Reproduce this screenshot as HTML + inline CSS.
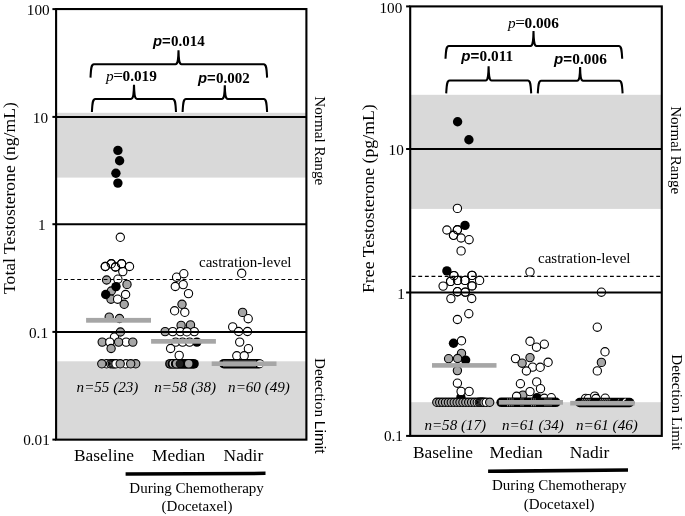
<!DOCTYPE html>
<html lang="en">
<head>
<meta charset="utf-8">
<title>Testosterone levels during docetaxel chemotherapy</title>
<style>
html,body{margin:0;padding:0;background:#fff;}
body{width:685px;height:516px;overflow:hidden;}
svg{display:block;}
text{fill:#000;}
</style>
</head>
<body>
<svg width="685" height="516" viewBox="0 0 685 516">
<rect x="0" y="0" width="685" height="516" fill="#fff"/>
<rect x="56.1" y="112.8" width="250.3" height="64.8" fill="#d9d9d9"/>
<rect x="56.1" y="361.3" width="250.3" height="78.3" fill="#d9d9d9"/>
<circle cx="117.9" cy="150.4" r="4.70" fill="#000"/>
<circle cx="119.6" cy="160.7" r="4.70" fill="#000"/>
<circle cx="115.9" cy="173.3" r="4.70" fill="#000"/>
<circle cx="117.9" cy="183.1" r="4.70" fill="#000"/>
<circle cx="120.3" cy="237.3" r="4.15" fill="#fff" stroke="#000" stroke-width="1.1"/>
<circle cx="111.3" cy="263.8" r="4.15" fill="#fff" stroke="#000" stroke-width="1.1"/>
<circle cx="105.3" cy="266.5" r="4.15" fill="#fff" stroke="#000" stroke-width="1.1"/>
<circle cx="115.5" cy="267.0" r="4.15" fill="#fff" stroke="#000" stroke-width="1.1"/>
<circle cx="121.6" cy="263.8" r="4.15" fill="#fff" stroke="#000" stroke-width="1.1"/>
<circle cx="129.5" cy="266.5" r="4.15" fill="#fff" stroke="#000" stroke-width="1.1"/>
<circle cx="122.8" cy="271.6" r="4.15" fill="#fff" stroke="#000" stroke-width="1.1"/>
<circle cx="106.6" cy="280.0" r="4.15" fill="#a6a6a6" stroke="#000" stroke-width="1.1"/>
<circle cx="117.9" cy="279.2" r="4.15" fill="#fff" stroke="#000" stroke-width="1.1"/>
<circle cx="127.0" cy="284.4" r="4.15" fill="#a6a6a6" stroke="#000" stroke-width="1.1"/>
<circle cx="111.3" cy="291.0" r="4.15" fill="#a6a6a6" stroke="#000" stroke-width="1.1"/>
<circle cx="116.0" cy="286.6" r="4.70" fill="#000"/>
<circle cx="111.0" cy="299.2" r="4.15" fill="#a6a6a6" stroke="#000" stroke-width="1.1"/>
<circle cx="105.7" cy="294.5" r="4.70" fill="#000"/>
<circle cx="125.6" cy="294.5" r="4.15" fill="#fff" stroke="#000" stroke-width="1.1"/>
<circle cx="117.6" cy="299.2" r="4.15" fill="#fff" stroke="#000" stroke-width="1.1"/>
<circle cx="124.2" cy="304.3" r="4.15" fill="#a6a6a6" stroke="#000" stroke-width="1.1"/>
<circle cx="109.2" cy="317.1" r="4.15" fill="#a6a6a6" stroke="#000" stroke-width="1.1"/>
<circle cx="119.5" cy="318.5" r="4.15" fill="#a6a6a6" stroke="#000" stroke-width="1.1"/>
<circle cx="114.5" cy="337.0" r="4.15" fill="#fff" stroke="#000" stroke-width="1.1"/>
<circle cx="120.4" cy="332.0" r="4.15" fill="#a6a6a6" stroke="#000" stroke-width="1.1"/>
<circle cx="102.2" cy="342.1" r="4.15" fill="#a6a6a6" stroke="#000" stroke-width="1.1"/>
<circle cx="109.8" cy="342.1" r="4.15" fill="#fff" stroke="#000" stroke-width="1.1"/>
<circle cx="126.1" cy="342.1" r="4.15" fill="#fff" stroke="#000" stroke-width="1.1"/>
<circle cx="118.6" cy="342.1" r="4.15" fill="#a6a6a6" stroke="#000" stroke-width="1.1"/>
<circle cx="132.8" cy="342.1" r="4.15" fill="#a6a6a6" stroke="#000" stroke-width="1.1"/>
<circle cx="111.1" cy="348.5" r="4.15" fill="#a6a6a6" stroke="#000" stroke-width="1.1"/>
<circle cx="135.7" cy="363.8" r="4.15" fill="#a6a6a6" stroke="#000" stroke-width="1.1"/>
<circle cx="126.0" cy="363.8" r="4.15" fill="#fff" stroke="#000" stroke-width="1.1"/>
<circle cx="130.7" cy="363.8" r="4.15" fill="#a6a6a6" stroke="#000" stroke-width="1.1"/>
<circle cx="106.6" cy="363.8" r="4.15" fill="#fff" stroke="#000" stroke-width="1.1"/>
<circle cx="101.8" cy="363.8" r="4.15" fill="#a6a6a6" stroke="#000" stroke-width="1.1"/>
<circle cx="110.6" cy="363.8" r="4.15" fill="#a6a6a6" stroke="#000" stroke-width="1.1"/>
<circle cx="112.4" cy="363.8" r="4.15" fill="#a6a6a6" stroke="#000" stroke-width="1.1"/>
<circle cx="113.6" cy="363.8" r="4.15" fill="#fff" stroke="#000" stroke-width="1.1"/>
<circle cx="114.8" cy="363.8" r="4.15" fill="#a6a6a6" stroke="#000" stroke-width="1.1"/>
<circle cx="116.0" cy="363.8" r="4.15" fill="#fff" stroke="#000" stroke-width="1.1"/>
<circle cx="120.2" cy="363.8" r="4.15" fill="#a6a6a6" stroke="#000" stroke-width="1.1"/>
<circle cx="176.6" cy="277.2" r="4.15" fill="#fff" stroke="#000" stroke-width="1.1"/>
<circle cx="183.8" cy="273.7" r="4.15" fill="#fff" stroke="#000" stroke-width="1.1"/>
<circle cx="175.3" cy="286.5" r="4.15" fill="#fff" stroke="#000" stroke-width="1.1"/>
<circle cx="183.2" cy="284.6" r="4.15" fill="#fff" stroke="#000" stroke-width="1.1"/>
<circle cx="188.5" cy="293.6" r="4.15" fill="#fff" stroke="#000" stroke-width="1.1"/>
<circle cx="174.6" cy="310.8" r="4.15" fill="#fff" stroke="#000" stroke-width="1.1"/>
<circle cx="184.8" cy="312.3" r="4.15" fill="#fff" stroke="#000" stroke-width="1.1"/>
<circle cx="182.0" cy="304.3" r="4.15" fill="#a6a6a6" stroke="#000" stroke-width="1.1"/>
<circle cx="181.1" cy="325.4" r="4.15" fill="#a6a6a6" stroke="#000" stroke-width="1.1"/>
<circle cx="190.5" cy="324.9" r="4.15" fill="#a6a6a6" stroke="#000" stroke-width="1.1"/>
<circle cx="165.1" cy="331.6" r="4.15" fill="#a6a6a6" stroke="#000" stroke-width="1.1"/>
<circle cx="172.7" cy="331.6" r="4.15" fill="#fff" stroke="#000" stroke-width="1.1"/>
<circle cx="180.3" cy="331.6" r="4.15" fill="#fff" stroke="#000" stroke-width="1.1"/>
<circle cx="194.3" cy="331.6" r="4.15" fill="#fff" stroke="#000" stroke-width="1.1"/>
<circle cx="186.9" cy="331.8" r="4.15" fill="#fff" stroke="#000" stroke-width="1.1"/>
<circle cx="175.6" cy="342.1" r="4.15" fill="#fff" stroke="#000" stroke-width="1.1"/>
<circle cx="182.6" cy="342.1" r="4.15" fill="#fff" stroke="#000" stroke-width="1.1"/>
<circle cx="189.6" cy="342.1" r="4.15" fill="#fff" stroke="#000" stroke-width="1.1"/>
<circle cx="196.9" cy="342.1" r="4.70" fill="#000"/>
<circle cx="170.6" cy="348.5" r="4.15" fill="#fff" stroke="#000" stroke-width="1.1"/>
<circle cx="179.2" cy="355.4" r="4.15" fill="#fff" stroke="#000" stroke-width="1.1"/>
<circle cx="241.7" cy="273.3" r="4.15" fill="#fff" stroke="#000" stroke-width="1.1"/>
<circle cx="242.6" cy="312.4" r="4.15" fill="#a6a6a6" stroke="#000" stroke-width="1.1"/>
<circle cx="248.2" cy="318.7" r="4.15" fill="#fff" stroke="#000" stroke-width="1.1"/>
<circle cx="232.7" cy="326.9" r="4.15" fill="#fff" stroke="#000" stroke-width="1.1"/>
<circle cx="238.6" cy="331.5" r="4.15" fill="#fff" stroke="#000" stroke-width="1.1"/>
<circle cx="247.5" cy="331.5" r="4.15" fill="#fff" stroke="#000" stroke-width="1.1"/>
<circle cx="239.7" cy="342.1" r="4.15" fill="#fff" stroke="#000" stroke-width="1.1"/>
<circle cx="248.4" cy="348.7" r="4.15" fill="#fff" stroke="#000" stroke-width="1.1"/>
<circle cx="236.8" cy="355.8" r="4.15" fill="#fff" stroke="#000" stroke-width="1.1"/>
<circle cx="244.2" cy="355.8" r="4.15" fill="#fff" stroke="#000" stroke-width="1.1"/>
<circle cx="111.3" cy="263.8" r="4.15" fill="none" stroke="#000" stroke-width="1.1"/>
<circle cx="105.3" cy="266.5" r="4.15" fill="none" stroke="#000" stroke-width="1.1"/>
<circle cx="115.5" cy="267.0" r="4.15" fill="none" stroke="#000" stroke-width="1.1"/>
<circle cx="121.6" cy="263.8" r="4.15" fill="none" stroke="#000" stroke-width="1.1"/>
<rect x="165.1" y="358.9" width="33.7" height="9.8" rx="4.9" ry="4.9" fill="#000"/>
<circle cx="170.2" cy="363.75" r="3.7" fill="#666"/>
<circle cx="171.6" cy="363.75" r="3.9" fill="#000"/>
<circle cx="173.2" cy="363.75" r="3.7" fill="#ccc"/>
<circle cx="174.8" cy="363.75" r="3.9" fill="#000"/>
<circle cx="176.6" cy="363.75" r="3.7" fill="#a6a6a6"/>
<circle cx="179.9" cy="363.75" r="4.3" fill="#000"/>
<circle cx="179.7" cy="363.75" r="3.5" fill="#1c1c1c"/>
<circle cx="188.7" cy="363.75" r="3.7" fill="#a6a6a6"/>
<rect x="219.0" y="358.9" width="45.0" height="9.6" rx="4.8" ry="4.8" fill="#000"/>
<circle cx="260.0" cy="363.75" r="3.6" fill="#fff"/>
<rect x="223" y="360.45" width="33" height="6.6" fill="#555"/>
<rect x="86.1" y="317.9" width="64.9" height="4.8" fill="#a6a6a6"/>
<rect x="151.1" y="339.0" width="64.8" height="4.7" fill="#a6a6a6"/>
<rect x="211.7" y="361.5" width="64.8" height="4.5" fill="#a6a6a6"/>
<line x1="56.1" y1="116.9" x2="306.4" y2="116.9" stroke="#000" stroke-width="2.0" stroke-linecap="butt"/>
<line x1="56.1" y1="224.2" x2="306.4" y2="224.2" stroke="#000" stroke-width="2.0" stroke-linecap="butt"/>
<line x1="56.1" y1="331.9" x2="306.4" y2="331.9" stroke="#000" stroke-width="2.0" stroke-linecap="butt"/>
<line x1="56.1" y1="279.5" x2="306.4" y2="279.5" stroke="#000" stroke-width="1.15" stroke-dasharray="3.85 2.735" stroke-dashoffset="-1.4" stroke-linecap="butt"/>
<rect x="56.1" y="9.05" width="250.3" height="430.6" fill="none" stroke="#000" stroke-width="2.1"/>
<line x1="52.4" y1="9.1" x2="56.1" y2="9.1" stroke="#000" stroke-width="2.0" stroke-linecap="butt"/>
<line x1="52.4" y1="116.9" x2="56.1" y2="116.9" stroke="#000" stroke-width="2.0" stroke-linecap="butt"/>
<line x1="52.4" y1="224.2" x2="56.1" y2="224.2" stroke="#000" stroke-width="2.0" stroke-linecap="butt"/>
<line x1="52.4" y1="331.9" x2="56.1" y2="331.9" stroke="#000" stroke-width="2.0" stroke-linecap="butt"/>
<line x1="52.4" y1="439.6" x2="56.1" y2="439.6" stroke="#000" stroke-width="2.0" stroke-linecap="butt"/>
<text x="49.6" y="15.1" font-family='"Liberation Serif", serif' font-size="15.2" text-anchor="end">100</text>
<text x="48.0" y="122.8" font-family='"Liberation Serif", serif' font-size="15.2" text-anchor="end">10</text>
<text x="45.6" y="230.1" font-family='"Liberation Serif", serif' font-size="15.2" text-anchor="end">1</text>
<text x="48.0" y="337.8" font-family='"Liberation Serif", serif' font-size="15.2" text-anchor="end">0.1</text>
<text x="49.8" y="444.9" font-family='"Liberation Serif", serif' font-size="15.2" text-anchor="end">0.01</text>
<text x="14.9" y="293.9" font-family='"Liberation Serif", serif' font-size="17.6" text-anchor="start" transform="rotate(-90 14.9 293.9)">Total Testosterone (ng/mL)</text>
<text x="315.2" y="96.3" font-family='"Liberation Serif", serif' font-size="15.2" text-anchor="start" transform="rotate(90 315.2 96.3)">Normal Range</text>
<text x="315.2" y="358.0" font-family='"Liberation Serif", serif' font-size="15.2" transform="rotate(90 315.2 358.0)">Detection <tspan font-family='"Liberation Sans", sans-serif' font-size="15.5">Limit</tspan></text>
<text x="199.0" y="267.3" font-family='"Liberation Serif", serif' font-size="15.0" text-anchor="start">castration-level</text>
<text x="76.6" y="392.0" font-family='"Liberation Serif", serif' font-size="15.1" font-style="italic" text-anchor="start">n=55 (23)</text>
<text x="154.3" y="392.0" font-family='"Liberation Serif", serif' font-size="15.1" font-style="italic" text-anchor="start">n=58 (38)</text>
<text x="228.1" y="392.0" font-family='"Liberation Serif", serif' font-size="15.1" font-style="italic" text-anchor="start">n=60 (49)</text>
<path d="M90.5 77.6 C91.0 69.2 91.0 64.2 93.9 64.2 L175.5 64.2 C177.8 64.2 178.3 60.2 178.5 50.3 C178.7 60.2 179.2 64.2 181.5 64.2 L263.7 64.2 C266.6 64.2 266.6 69.2 267.1 77.6" fill="none" stroke="#000" stroke-width="2.05" stroke-linejoin="miter" stroke-miterlimit="10"/>
<path d="M91.9 112.0 C92.4 103.9 92.4 98.9 95.3 98.9 L131.0 98.9 C133.3 98.9 133.8 94.9 134.0 84.8 C134.2 94.9 134.7 98.9 137.0 98.9 L172.6 98.9 C175.5 98.9 175.5 103.9 176.0 112.0" fill="none" stroke="#000" stroke-width="2.05" stroke-linejoin="miter" stroke-miterlimit="10"/>
<path d="M182.6 112.0 C183.1 104.0 183.1 99.0 186.0 99.0 L221.8 99.0 C224.1 99.0 224.6 95.0 224.8 85.3 C225.0 95.0 225.5 99.0 227.8 99.0 L263.7 99.0 C266.6 99.0 266.6 104.0 267.1 112.0" fill="none" stroke="#000" stroke-width="2.05" stroke-linejoin="miter" stroke-miterlimit="10"/>
<text x="153.0" y="45.8" font-family='"Liberation Serif", serif' font-size="15.0"><tspan font-family='"Liberation Sans", sans-serif' font-style="italic" font-weight="bold" font-size="14.8">p</tspan><tspan font-family='"Liberation Sans", sans-serif' font-weight="bold" font-size="14.8">=</tspan><tspan font-weight="bold" dx="0.3">0.014</tspan></text>
<text x="106.0" y="81.1" font-family='"Liberation Serif", serif' font-size="15.3"><tspan font-style="italic">p</tspan><tspan font-size="17.3" dx="-0.4">=</tspan><tspan font-weight="bold" dx="-0.5">0.019</tspan></text>
<text x="198.0" y="82.8" font-family='"Liberation Serif", serif' font-size="15.0"><tspan font-family='"Liberation Sans", sans-serif' font-style="italic" font-weight="bold" font-size="14.8">p</tspan><tspan font-family='"Liberation Sans", sans-serif' font-weight="bold" font-size="14.8">=</tspan><tspan font-weight="bold" dx="0.3">0.002</tspan></text>
<text x="74.0" y="461.2" font-family='"Liberation Serif", serif' font-size="17.4" text-anchor="start">Baseline</text>
<text x="152.0" y="461.2" font-family='"Liberation Serif", serif' font-size="17.4" text-anchor="start">Median</text>
<text x="223.6" y="461.2" font-family='"Liberation Serif", serif' font-size="17.4" text-anchor="start">Nadir</text>
<path d="M125.6 472.3 L265.5 471.6 L265.5 475.1 L125.6 475.8Z" fill="#000"/>
<text x="196.6" y="493.0" font-family='"Liberation Serif", serif' font-size="15.0" text-anchor="middle">During Chemotherapy</text>
<text x="197.0" y="511.0" font-family='"Liberation Serif", serif' font-size="15.0" text-anchor="middle">(Docetaxel)</text>
<rect x="410.2" y="94.8" width="251.6" height="114.1" fill="#d9d9d9"/>
<rect x="410.2" y="402.2" width="251.6" height="33.7" fill="#d9d9d9"/>
<circle cx="457.6" cy="121.8" r="4.70" fill="#000"/>
<circle cx="468.9" cy="139.8" r="4.70" fill="#000"/>
<circle cx="457.4" cy="208.4" r="4.15" fill="#fff" stroke="#000" stroke-width="1.1"/>
<circle cx="465.0" cy="225.4" r="4.70" fill="#000"/>
<circle cx="446.9" cy="230.0" r="4.15" fill="#fff" stroke="#000" stroke-width="1.1"/>
<circle cx="453.5" cy="235.3" r="4.15" fill="#fff" stroke="#000" stroke-width="1.1"/>
<circle cx="457.4" cy="229.8" r="4.15" fill="#fff" stroke="#000" stroke-width="1.1"/>
<circle cx="461.1" cy="238.0" r="4.15" fill="#fff" stroke="#000" stroke-width="1.1"/>
<circle cx="469.1" cy="239.7" r="4.15" fill="#fff" stroke="#000" stroke-width="1.1"/>
<circle cx="461.1" cy="250.9" r="4.15" fill="#fff" stroke="#000" stroke-width="1.1"/>
<circle cx="453.9" cy="275.6" r="4.15" fill="#fff" stroke="#000" stroke-width="1.1"/>
<circle cx="446.9" cy="270.9" r="4.70" fill="#000"/>
<circle cx="472.0" cy="275.4" r="4.15" fill="#fff" stroke="#000" stroke-width="1.1"/>
<circle cx="450.6" cy="281.4" r="4.15" fill="#fff" stroke="#000" stroke-width="1.1"/>
<circle cx="457.6" cy="280.4" r="4.15" fill="#fff" stroke="#000" stroke-width="1.1"/>
<circle cx="465.0" cy="280.4" r="4.15" fill="#fff" stroke="#000" stroke-width="1.1"/>
<circle cx="479.6" cy="280.4" r="4.15" fill="#fff" stroke="#000" stroke-width="1.1"/>
<circle cx="472.0" cy="285.9" r="4.15" fill="#fff" stroke="#000" stroke-width="1.1"/>
<circle cx="443.1" cy="286.1" r="4.15" fill="#fff" stroke="#000" stroke-width="1.1"/>
<circle cx="457.4" cy="291.7" r="4.15" fill="#fff" stroke="#000" stroke-width="1.1"/>
<circle cx="465.3" cy="292.1" r="4.15" fill="#fff" stroke="#000" stroke-width="1.1"/>
<circle cx="450.9" cy="298.6" r="4.15" fill="#fff" stroke="#000" stroke-width="1.1"/>
<circle cx="471.7" cy="298.5" r="4.15" fill="#fff" stroke="#000" stroke-width="1.1"/>
<circle cx="468.8" cy="313.7" r="4.15" fill="#fff" stroke="#000" stroke-width="1.1"/>
<circle cx="457.4" cy="319.5" r="4.15" fill="#fff" stroke="#000" stroke-width="1.1"/>
<circle cx="461.5" cy="340.8" r="4.15" fill="#fff" stroke="#000" stroke-width="1.1"/>
<circle cx="453.5" cy="343.3" r="4.70" fill="#000"/>
<circle cx="461.5" cy="353.4" r="4.15" fill="#a6a6a6" stroke="#000" stroke-width="1.1"/>
<circle cx="465.6" cy="360.1" r="4.70" fill="#000"/>
<circle cx="448.6" cy="358.7" r="4.15" fill="#a6a6a6" stroke="#000" stroke-width="1.1"/>
<circle cx="457.6" cy="358.5" r="4.15" fill="#a6a6a6" stroke="#000" stroke-width="1.1"/>
<circle cx="457.4" cy="370.6" r="4.15" fill="#a6a6a6" stroke="#000" stroke-width="1.1"/>
<circle cx="457.4" cy="383.2" r="4.15" fill="#fff" stroke="#000" stroke-width="1.1"/>
<circle cx="460.9" cy="397.4" r="4.70" fill="#000"/>
<circle cx="461.1" cy="391.4" r="4.15" fill="#fff" stroke="#000" stroke-width="1.1"/>
<circle cx="469.1" cy="391.4" r="4.15" fill="#fff" stroke="#000" stroke-width="1.1"/>
<circle cx="436.8" cy="402.3" r="4.15" fill="#a6a6a6" stroke="#000" stroke-width="1.1"/>
<circle cx="439.7" cy="402.3" r="4.15" fill="#a6a6a6" stroke="#000" stroke-width="1.1"/>
<circle cx="442.6" cy="402.3" r="4.15" fill="#a6a6a6" stroke="#000" stroke-width="1.1"/>
<circle cx="445.5" cy="402.3" r="4.15" fill="#a6a6a6" stroke="#000" stroke-width="1.1"/>
<circle cx="448.4" cy="402.3" r="4.15" fill="#a6a6a6" stroke="#000" stroke-width="1.1"/>
<circle cx="451.3" cy="402.3" r="4.15" fill="#a6a6a6" stroke="#000" stroke-width="1.1"/>
<circle cx="454.2" cy="402.3" r="4.15" fill="#a6a6a6" stroke="#000" stroke-width="1.1"/>
<circle cx="457.1" cy="402.3" r="4.15" fill="#a6a6a6" stroke="#000" stroke-width="1.1"/>
<circle cx="460.0" cy="402.3" r="4.15" fill="#a6a6a6" stroke="#000" stroke-width="1.1"/>
<circle cx="462.9" cy="402.3" r="4.15" fill="#a6a6a6" stroke="#000" stroke-width="1.1"/>
<circle cx="465.8" cy="402.3" r="4.15" fill="#a6a6a6" stroke="#000" stroke-width="1.1"/>
<circle cx="468.7" cy="402.3" r="4.15" fill="#a6a6a6" stroke="#000" stroke-width="1.1"/>
<circle cx="471.6" cy="402.3" r="4.15" fill="#a6a6a6" stroke="#000" stroke-width="1.1"/>
<circle cx="474.5" cy="402.3" r="4.15" fill="#a6a6a6" stroke="#000" stroke-width="1.1"/>
<circle cx="477.3" cy="402.3" r="4.15" fill="#fff" stroke="#000" stroke-width="1.1"/>
<circle cx="479.2" cy="402.3" r="4.15" fill="#a6a6a6" stroke="#000" stroke-width="1.1"/>
<circle cx="480.4" cy="402.3" r="4.15" fill="#a6a6a6" stroke="#000" stroke-width="1.1"/>
<circle cx="481.6" cy="402.3" r="4.15" fill="#a6a6a6" stroke="#000" stroke-width="1.1"/>
<circle cx="482.8" cy="402.3" r="4.15" fill="#a6a6a6" stroke="#000" stroke-width="1.1"/>
<circle cx="484.0" cy="402.3" r="4.15" fill="#a6a6a6" stroke="#000" stroke-width="1.1"/>
<circle cx="486.3" cy="402.3" r="4.15" fill="#fff" stroke="#000" stroke-width="1.1"/>
<circle cx="489.7" cy="402.3" r="4.15" fill="#a6a6a6" stroke="#000" stroke-width="1.1"/>
<circle cx="530.0" cy="271.9" r="4.15" fill="#fff" stroke="#000" stroke-width="1.1"/>
<circle cx="530.0" cy="341.3" r="4.15" fill="#fff" stroke="#000" stroke-width="1.1"/>
<circle cx="544.3" cy="344.2" r="4.15" fill="#fff" stroke="#000" stroke-width="1.1"/>
<circle cx="536.5" cy="347.2" r="4.15" fill="#fff" stroke="#000" stroke-width="1.1"/>
<circle cx="515.5" cy="358.6" r="4.15" fill="#fff" stroke="#000" stroke-width="1.1"/>
<circle cx="530.0" cy="357.6" r="4.15" fill="#a6a6a6" stroke="#000" stroke-width="1.1"/>
<circle cx="522.1" cy="363.2" r="4.15" fill="#a6a6a6" stroke="#000" stroke-width="1.1"/>
<circle cx="548.1" cy="362.3" r="4.15" fill="#fff" stroke="#000" stroke-width="1.1"/>
<circle cx="532.6" cy="367.1" r="4.15" fill="#fff" stroke="#000" stroke-width="1.1"/>
<circle cx="540.2" cy="367.3" r="4.15" fill="#fff" stroke="#000" stroke-width="1.1"/>
<circle cx="526.4" cy="371.0" r="4.15" fill="#fff" stroke="#000" stroke-width="1.1"/>
<circle cx="520.4" cy="383.7" r="4.15" fill="#fff" stroke="#000" stroke-width="1.1"/>
<circle cx="536.7" cy="381.9" r="4.15" fill="#fff" stroke="#000" stroke-width="1.1"/>
<circle cx="537.0" cy="397.6" r="4.70" fill="#000"/>
<circle cx="522.9" cy="395.1" r="4.15" fill="#a6a6a6" stroke="#000" stroke-width="1.1"/>
<circle cx="540.5" cy="388.7" r="4.15" fill="#fff" stroke="#000" stroke-width="1.1"/>
<circle cx="530.0" cy="391.6" r="4.15" fill="#fff" stroke="#000" stroke-width="1.1"/>
<circle cx="516.6" cy="396.3" r="4.15" fill="#fff" stroke="#000" stroke-width="1.1"/>
<circle cx="544.3" cy="398.3" r="4.15" fill="#fff" stroke="#000" stroke-width="1.1"/>
<circle cx="551.3" cy="397.7" r="4.15" fill="#fff" stroke="#000" stroke-width="1.1"/>
<circle cx="601.4" cy="292.2" r="4.15" fill="#fff" stroke="#000" stroke-width="1.1"/>
<circle cx="597.3" cy="327.2" r="4.15" fill="#fff" stroke="#000" stroke-width="1.1"/>
<circle cx="605.0" cy="351.8" r="4.15" fill="#fff" stroke="#000" stroke-width="1.1"/>
<circle cx="597.3" cy="370.9" r="4.15" fill="#fff" stroke="#000" stroke-width="1.1"/>
<circle cx="601.4" cy="362.4" r="4.15" fill="#a6a6a6" stroke="#000" stroke-width="1.1"/>
<circle cx="585.6" cy="398.4" r="4.15" fill="#fff" stroke="#000" stroke-width="1.1"/>
<circle cx="588.3" cy="398.7" r="4.15" fill="#fff" stroke="#000" stroke-width="1.1"/>
<circle cx="594.7" cy="396.1" r="4.15" fill="#fff" stroke="#000" stroke-width="1.1"/>
<circle cx="595.9" cy="398.5" r="4.15" fill="#fff" stroke="#000" stroke-width="1.1"/>
<circle cx="605.2" cy="398.2" r="4.15" fill="#fff" stroke="#000" stroke-width="1.1"/>
<circle cx="453.5" cy="235.3" r="4.15" fill="none" stroke="#000" stroke-width="1.1"/>
<circle cx="457.4" cy="229.8" r="4.15" fill="none" stroke="#000" stroke-width="1.1"/>
<circle cx="453.9" cy="275.6" r="4.15" fill="none" stroke="#000" stroke-width="1.1"/>
<circle cx="450.6" cy="281.4" r="4.15" fill="none" stroke="#000" stroke-width="1.1"/>
<circle cx="457.6" cy="280.4" r="4.15" fill="none" stroke="#000" stroke-width="1.1"/>
<circle cx="465.0" cy="280.4" r="4.15" fill="none" stroke="#000" stroke-width="1.1"/>
<circle cx="472.0" cy="275.4" r="4.15" fill="none" stroke="#000" stroke-width="1.1"/>
<circle cx="472.0" cy="285.9" r="4.15" fill="none" stroke="#000" stroke-width="1.1"/>
<circle cx="457.4" cy="291.7" r="4.15" fill="none" stroke="#000" stroke-width="1.1"/>
<circle cx="465.3" cy="292.1" r="4.15" fill="none" stroke="#000" stroke-width="1.1"/>
<rect x="496.4" y="397.5" width="64.3" height="9.6" rx="4.8" ry="4.8" fill="#000"/>
<rect x="574.9" y="397.8" width="59.5" height="9.4" rx="4.7" ry="4.7" fill="#000"/>
<line x1="582.0" y1="400.6" x2="583.0" y2="398.9" stroke="#fff" stroke-width="0.7" stroke-opacity="0.75"/>
<line x1="583.8" y1="400.6" x2="584.8" y2="398.9" stroke="#fff" stroke-width="0.7" stroke-opacity="0.75"/>
<line x1="585.6" y1="400.6" x2="586.6" y2="398.9" stroke="#fff" stroke-width="0.7" stroke-opacity="0.75"/>
<line x1="587.5" y1="400.6" x2="588.5" y2="398.9" stroke="#fff" stroke-width="0.7" stroke-opacity="0.75"/>
<line x1="589.3" y1="400.6" x2="590.3" y2="398.9" stroke="#fff" stroke-width="0.7" stroke-opacity="0.75"/>
<line x1="600.0" y1="400.6" x2="601.0" y2="398.9" stroke="#fff" stroke-width="0.7" stroke-opacity="0.75"/>
<line x1="601.8" y1="400.6" x2="602.8" y2="398.9" stroke="#fff" stroke-width="0.7" stroke-opacity="0.75"/>
<line x1="603.6" y1="400.6" x2="604.6" y2="398.9" stroke="#fff" stroke-width="0.7" stroke-opacity="0.75"/>
<line x1="605.5" y1="400.6" x2="606.5" y2="398.9" stroke="#fff" stroke-width="0.7" stroke-opacity="0.75"/>
<line x1="607.3" y1="400.6" x2="608.3" y2="398.9" stroke="#fff" stroke-width="0.7" stroke-opacity="0.75"/>
<line x1="609.1" y1="400.6" x2="610.1" y2="398.9" stroke="#fff" stroke-width="0.7" stroke-opacity="0.75"/>
<line x1="618.0" y1="400.6" x2="619.0" y2="398.9" stroke="#fff" stroke-width="0.7" stroke-opacity="0.75"/>
<line x1="623.0" y1="400.8" x2="625.6" y2="398.8" stroke="#fff" stroke-width="1.3"/>
<line x1="507.5" y1="399.7" x2="507.5" y2="398.4" stroke="#fff" stroke-width="0.7" stroke-opacity="0.7"/>
<line x1="507.5" y1="406.3" x2="507.5" y2="405.0" stroke="#fff" stroke-width="0.7" stroke-opacity="0.7"/>
<line x1="509.4" y1="399.7" x2="509.4" y2="398.4" stroke="#fff" stroke-width="0.7" stroke-opacity="0.7"/>
<line x1="509.4" y1="406.3" x2="509.4" y2="405.0" stroke="#fff" stroke-width="0.7" stroke-opacity="0.7"/>
<line x1="511.2" y1="399.7" x2="511.2" y2="398.4" stroke="#fff" stroke-width="0.7" stroke-opacity="0.7"/>
<line x1="511.2" y1="406.3" x2="511.2" y2="405.0" stroke="#fff" stroke-width="0.7" stroke-opacity="0.7"/>
<line x1="513.0" y1="399.7" x2="513.0" y2="398.4" stroke="#fff" stroke-width="0.7" stroke-opacity="0.7"/>
<line x1="513.0" y1="406.3" x2="513.0" y2="405.0" stroke="#fff" stroke-width="0.7" stroke-opacity="0.7"/>
<line x1="521.0" y1="399.7" x2="521.0" y2="398.4" stroke="#fff" stroke-width="0.7" stroke-opacity="0.7"/>
<line x1="521.0" y1="406.3" x2="521.0" y2="405.0" stroke="#fff" stroke-width="0.7" stroke-opacity="0.7"/>
<line x1="523.0" y1="399.7" x2="523.0" y2="398.4" stroke="#fff" stroke-width="0.7" stroke-opacity="0.7"/>
<line x1="523.0" y1="406.3" x2="523.0" y2="405.0" stroke="#fff" stroke-width="0.7" stroke-opacity="0.7"/>
<line x1="531.5" y1="399.7" x2="531.5" y2="398.4" stroke="#fff" stroke-width="0.7" stroke-opacity="0.7"/>
<line x1="531.5" y1="406.3" x2="531.5" y2="405.0" stroke="#fff" stroke-width="0.7" stroke-opacity="0.7"/>
<line x1="533.4" y1="399.7" x2="533.4" y2="398.4" stroke="#fff" stroke-width="0.7" stroke-opacity="0.7"/>
<line x1="533.4" y1="406.3" x2="533.4" y2="405.0" stroke="#fff" stroke-width="0.7" stroke-opacity="0.7"/>
<line x1="535.2" y1="399.7" x2="535.2" y2="398.4" stroke="#fff" stroke-width="0.7" stroke-opacity="0.7"/>
<line x1="535.2" y1="406.3" x2="535.2" y2="405.0" stroke="#fff" stroke-width="0.7" stroke-opacity="0.7"/>
<line x1="545.0" y1="399.7" x2="545.0" y2="398.4" stroke="#fff" stroke-width="0.7" stroke-opacity="0.7"/>
<line x1="545.0" y1="406.3" x2="545.0" y2="405.0" stroke="#fff" stroke-width="0.7" stroke-opacity="0.7"/>
<line x1="547.0" y1="399.7" x2="547.0" y2="398.4" stroke="#fff" stroke-width="0.7" stroke-opacity="0.7"/>
<line x1="547.0" y1="406.3" x2="547.0" y2="405.0" stroke="#fff" stroke-width="0.7" stroke-opacity="0.7"/>
<line x1="549.0" y1="399.7" x2="549.0" y2="398.4" stroke="#fff" stroke-width="0.7" stroke-opacity="0.7"/>
<line x1="549.0" y1="406.3" x2="549.0" y2="405.0" stroke="#fff" stroke-width="0.7" stroke-opacity="0.7"/>
<line x1="551.0" y1="399.7" x2="551.0" y2="398.4" stroke="#fff" stroke-width="0.7" stroke-opacity="0.7"/>
<line x1="551.0" y1="406.3" x2="551.0" y2="405.0" stroke="#fff" stroke-width="0.7" stroke-opacity="0.7"/>
<rect x="432.0" y="363.1" width="64.5" height="4.6" fill="#a6a6a6"/>
<rect x="498.8" y="400.0" width="64.2" height="4.7" fill="#a6a6a6"/>
<rect x="570.2" y="400.9" width="64.5" height="4.6" fill="#a6a6a6"/>
<line x1="410.2" y1="149.0" x2="661.8" y2="149.0" stroke="#000" stroke-width="2.0" stroke-linecap="butt"/>
<line x1="410.2" y1="292.5" x2="661.8" y2="292.5" stroke="#000" stroke-width="2.0" stroke-linecap="butt"/>
<line x1="410.2" y1="276.3" x2="661.8" y2="276.3" stroke="#000" stroke-width="1.15" stroke-dasharray="3.86 2.75" stroke-dashoffset="-1.47" stroke-linecap="butt"/>
<rect x="410.2" y="6.4" width="251.6" height="429.5" fill="none" stroke="#000" stroke-width="2.1"/>
<line x1="406.1" y1="6.4" x2="410.2" y2="6.4" stroke="#000" stroke-width="2.0" stroke-linecap="butt"/>
<line x1="406.1" y1="149.0" x2="410.2" y2="149.0" stroke="#000" stroke-width="2.0" stroke-linecap="butt"/>
<line x1="406.1" y1="292.5" x2="410.2" y2="292.5" stroke="#000" stroke-width="2.0" stroke-linecap="butt"/>
<line x1="406.1" y1="435.9" x2="410.2" y2="435.9" stroke="#000" stroke-width="2.0" stroke-linecap="butt"/>
<text x="402.3" y="13.0" font-family='"Liberation Serif", serif' font-size="15.2" text-anchor="end">100</text>
<text x="403.8" y="155.1" font-family='"Liberation Serif", serif' font-size="15.2" text-anchor="end">10</text>
<text x="404.8" y="298.6" font-family='"Liberation Serif", serif' font-size="15.2" text-anchor="end">1</text>
<text x="402.9" y="440.9" font-family='"Liberation Serif", serif' font-size="15.2" text-anchor="end">0.1</text>
<text x="374.0" y="293.0" font-family='"Liberation Serif", serif' font-size="17.75" text-anchor="start" transform="rotate(-90 374.0 293.0)">Free Testosterone (pg/mL)</text>
<text x="671.2" y="106.2" font-family='"Liberation Serif", serif' font-size="15.0" text-anchor="start" transform="rotate(90 671.2 106.2)">Normal Range</text>
<text x="672.1" y="354.3" font-family='"Liberation Serif", serif' font-size="15.1" text-anchor="start" transform="rotate(90 672.1 354.3)">Detection Limit</text>
<text x="538.0" y="263.4" font-family='"Liberation Serif", serif' font-size="15.0" text-anchor="start">castration-level</text>
<text x="424.4" y="429.6" font-family='"Liberation Serif", serif' font-size="15.1" font-style="italic" text-anchor="start">n=58 (17)</text>
<text x="502.0" y="429.6" font-family='"Liberation Serif", serif' font-size="15.1" font-style="italic" text-anchor="start">n=61 (34)</text>
<text x="576.0" y="429.6" font-family='"Liberation Serif", serif' font-size="15.1" font-style="italic" text-anchor="start">n=61 (46)</text>
<path d="M445.5 58.8 C446.0 50.9 446.0 45.9 448.9 45.9 L530.5 45.9 C532.8 45.9 533.3 41.9 533.5 31.0 C533.7 41.9 534.2 45.9 536.5 45.9 L618.8 45.9 C621.7 45.9 621.7 50.9 622.2 58.8" fill="none" stroke="#000" stroke-width="2.05" stroke-linejoin="miter" stroke-miterlimit="10"/>
<path d="M446.2 93.4 C446.7 85.5 446.7 80.5 449.6 80.5 L485.6 80.5 C487.9 80.5 488.4 76.5 488.6 66.3 C488.8 76.5 489.3 80.5 491.6 80.5 L527.8 80.5 C530.7 80.5 530.7 85.5 531.2 93.4" fill="none" stroke="#000" stroke-width="2.05" stroke-linejoin="miter" stroke-miterlimit="10"/>
<path d="M537.8 93.4 C538.3 85.8 538.3 80.8 541.2 80.8 L577.1 80.8 C579.4 80.8 579.9 76.8 580.1 67.0 C580.3 76.8 580.8 80.8 583.1 80.8 L619.2 80.8 C622.1 80.8 622.1 85.8 622.6 93.4" fill="none" stroke="#000" stroke-width="2.05" stroke-linejoin="miter" stroke-miterlimit="10"/>
<text x="508.0" y="27.7" font-family='"Liberation Serif", serif' font-size="15.3"><tspan font-style="italic">p</tspan><tspan font-size="17.3" dx="-0.4">=</tspan><tspan font-weight="bold" dx="-0.5">0.006</tspan></text>
<text x="461.2" y="61.2" font-family='"Liberation Serif", serif' font-size="15.3"><tspan font-family='"Liberation Sans", sans-serif' font-style="italic" font-weight="bold" font-size="15.1">p</tspan><tspan font-family='"Liberation Sans", sans-serif' font-weight="bold" font-size="15.1">=</tspan><tspan font-weight="bold" dx="0.3">0.011</tspan></text>
<text x="554.0" y="64.2" font-family='"Liberation Serif", serif' font-size="15.3"><tspan font-family='"Liberation Sans", sans-serif' font-style="italic" font-weight="bold" font-size="15.1">p</tspan><tspan font-family='"Liberation Sans", sans-serif' font-weight="bold" font-size="15.1">=</tspan><tspan font-weight="bold" dx="0.3">0.006</tspan></text>
<text x="413.0" y="457.7" font-family='"Liberation Serif", serif' font-size="17.4" text-anchor="start">Baseline</text>
<text x="489.6" y="457.7" font-family='"Liberation Serif", serif' font-size="17.4" text-anchor="start">Median</text>
<text x="569.8" y="457.7" font-family='"Liberation Serif", serif' font-size="17.4" text-anchor="start">Nadir</text>
<path d="M488.1 469.5 L628.0 468.3 L628.0 471.8 L488.1 473.1Z" fill="#000"/>
<text x="559.3" y="489.9" font-family='"Liberation Serif", serif' font-size="15.0" text-anchor="middle">During Chemotherapy</text>
<text x="559.2" y="508.5" font-family='"Liberation Serif", serif' font-size="15.0" text-anchor="middle">(Docetaxel)</text>
</svg>
</body>
</html>
